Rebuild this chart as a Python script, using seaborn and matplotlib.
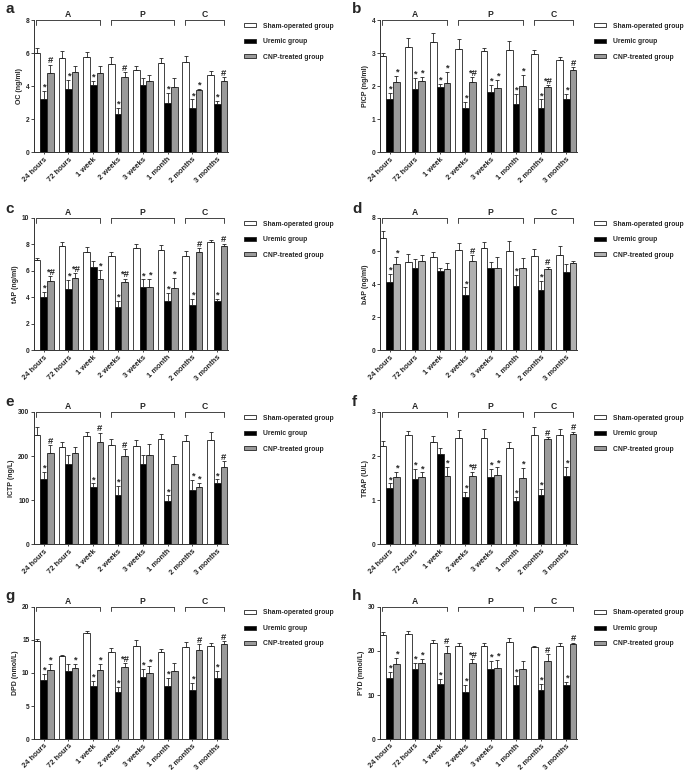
import numpy as np
import pandas as pd
import matplotlib
matplotlib.use('Agg')
import matplotlib.pyplot as plt
from matplotlib.patches import Patch
import seaborn as sns

times = ['24 hours', '72 hours', '1 week', '2 weeks', '3 weeks', '1 month', '2 months', '3 months']
groups = ['Sham-operated group', 'Uremic group', 'CNP-treated group']
phases = ['A', 'P', 'C']
phase_first = [0, 3, 6]
phase_last = [2, 5, 7]

# a - OC
oc_sham = [6.0, 5.7, 5.75, 5.35, 5.0, 5.4, 5.45, 4.7]
oc_uremic = [3.25, 3.85, 4.05, 2.3, 4.05, 3.0, 2.7, 2.9]
oc_cnp = [4.8, 4.85, 4.8, 4.55, 4.3, 3.95, 3.75, 4.3]
oc_sham_sd = [0.3, 0.4, 0.3, 0.4, 0.2, 0.3, 0.35, 0.2]
oc_uremic_sd = [0.45, 0.55, 0.25, 0.4, 0.45, 0.6, 0.5, 0.2]
oc_cnp_sd = [0.5, 0.4, 0.4, 0.3, 0.4, 0.55, 0.1, 0.25]
oc_uremic_sig = ['*', '*', '*', '*', '', '*', '*', '*']
oc_cnp_sig = ['#', '', '', '#', '', '', '*', '#']

# b - PICP
picp_sham = [2.9, 3.2, 3.35, 3.12, 3.05, 3.1, 2.98, 2.8]
picp_uremic = [1.62, 1.93, 1.98, 1.33, 1.82, 1.47, 1.35, 1.62]
picp_cnp = [2.12, 2.15, 2.1, 2.12, 1.95, 2.0, 1.97, 2.5]
picp_sham_sd = [0.1, 0.25, 0.27, 0.3, 0.1, 0.27, 0.12, 0.07]
picp_uremic_sd = [0.18, 0.32, 0.1, 0.19, 0.23, 0.31, 0.25, 0.16]
picp_cnp_sd = [0.18, 0.12, 0.32, 0.15, 0.25, 0.35, 0.06, 0.07]
picp_uremic_sig = ['*', '*', '*', '*', '*', '*', '*', '*']
picp_cnp_sig = ['*', '*', '*', '*#', '*', '*', '*#', '#']

# c - tAP
tap_sham = [6.85, 7.85, 7.4, 7.1, 7.7, 7.55, 7.1, 8.15]
tap_uremic = [4.0, 4.65, 6.3, 3.3, 4.8, 3.75, 3.45, 3.7]
tap_cnp = [5.25, 5.5, 5.4, 5.15, 4.8, 4.7, 7.45, 7.85]
tap_sham_sd = [0.15, 0.35, 0.4, 0.35, 0.35, 0.4, 0.4, 0.15]
tap_uremic_sd = [0.4, 0.65, 0.45, 0.4, 0.55, 0.6, 0.45, 0.15]
tap_cnp_sd = [0.35, 0.35, 0.7, 0.25, 0.6, 0.8, 0.25, 0.2]
tap_uremic_sig = ['*', '*', '', '*', '*', '*', '*', '*']
tap_cnp_sig = ['*#', '*#', '*', '*#', '*', '*', '#', '#']

# d - bAP
bap_sham = [6.8, 5.35, 5.65, 6.05, 6.2, 6.0, 5.7, 5.75]
bap_uremic = [4.1, 4.95, 4.8, 3.35, 4.95, 3.88, 3.65, 4.75]
bap_cnp = [5.2, 5.4, 4.9, 5.4, 5.0, 4.95, 4.9, 5.25]
bap_sham_sd = [0.4, 0.5, 0.3, 0.45, 0.35, 0.6, 0.45, 0.55]
bap_uremic_sd = [0.5, 0.55, 0.2, 0.45, 0.4, 0.67, 0.55, 0.45]
bap_cnp_sd = [0.45, 0.35, 0.35, 0.35, 0.65, 0.65, 0.15, 0.15]
bap_uremic_sig = ['*', '', '', '*', '', '*', '*', '']
bap_cnp_sig = ['*', '', '', '#', '', '', '#', '']

# e - ICTP
ictp_sham = [247, 221, 245, 225, 223, 238, 234, 236]
ictp_uremic = [147, 182, 130, 112, 183, 98, 123, 138]
ictp_cnp = [206, 208, 232, 201, 203, 183, 129, 175]
ictp_sham_sd = [18, 10, 10, 14, 14, 12, 14, 19]
ictp_uremic_sd = [18, 21, 8, 20, 20, 13, 22, 9]
ictp_cnp_sd = [19, 13, 21, 14, 25, 18, 11, 13]
ictp_uremic_sig = ['*', '', '*', '*', '', '*', '*', '*']
ictp_cnp_sig = ['#', '', '#', '#', '', '', '*', '#']

# f - TRAP
trap_sham = [2.22, 2.47, 2.33, 2.41, 2.42, 2.19, 2.47, 2.48]
trap_uremic = [1.28, 1.48, 2.05, 1.07, 1.53, 0.98, 1.11, 1.56]
trap_cnp = [1.52, 1.53, 1.56, 1.55, 1.58, 1.5, 2.39, 2.49]
trap_sham_sd = [0.13, 0.1, 0.13, 0.19, 0.2, 0.14, 0.2, 0.13]
trap_uremic_sd = [0.1, 0.22, 0.14, 0.11, 0.17, 0.1, 0.15, 0.2]
trap_cnp_sd = [0.13, 0.1, 0.2, 0.1, 0.18, 0.24, 0.04, 0.06]
trap_uremic_sig = ['*', '*', '', '*', '*', '*', '*', '*']
trap_cnp_sig = ['*', '*', '*', '*#', '*', '*', '#', '#']

# g - DPD
dpd_sham = [14.8, 12.6, 16.0, 13.1, 14.1, 13.1, 13.9, 14.1]
dpd_uremic = [9.0, 10.3, 8.1, 7.1, 9.4, 8.1, 7.5, 9.3]
dpd_cnp = [10.5, 10.8, 10.4, 10.9, 10.0, 10.3, 13.5, 14.4]
dpd_sham_sd = [0.4, 0.1, 0.4, 0.6, 0.9, 0.5, 0.8, 0.4]
dpd_uremic_sd = [0.8, 1.1, 0.7, 0.8, 1.2, 1.2, 1.0, 1.0]
dpd_cnp_sd = [0.9, 0.6, 1.0, 0.6, 1.1, 1.2, 0.9, 0.4]
dpd_uremic_sig = ['*', '', '*', '*', '*', '*', '*', '*']
dpd_cnp_sig = ['*', '*', '*', '*#', '*', '', '#', '#']

# h - PYD
pyd_sham = [23.7, 23.8, 21.9, 21.2, 21.0, 22.1, 20.9, 21.2]
pyd_uremic = [13.9, 16.0, 12.6, 10.8, 15.8, 12.2, 11.1, 12.3]
pyd_cnp = [17.1, 17.2, 19.6, 17.2, 16.1, 16.0, 17.8, 21.6]
pyd_sham_sd = [0.6, 0.8, 0.5, 0.6, 0.8, 0.8, 0.3, 0.5]
pyd_uremic_sd = [1.4, 1.2, 1.1, 1.4, 2.0, 2.1, 1.5, 0.7]
pyd_cnp_sd = [1.4, 1.0, 1.6, 1.0, 1.9, 1.8, 1.5, 0.3]
pyd_uremic_sig = ['*', '*', '*', '*', '*', '*', '*', '*']
pyd_cnp_sig = ['*', '*', '#', '*#', '*', '', '#', '#']

panels = [
    ('a', 'OC (ng/ml)', 8, 2, oc_sham, oc_uremic, oc_cnp, oc_sham_sd, oc_uremic_sd, oc_cnp_sd, oc_uremic_sig, oc_cnp_sig),
    ('b', 'PICP (ng/ml)', 4, 1, picp_sham, picp_uremic, picp_cnp, picp_sham_sd, picp_uremic_sd, picp_cnp_sd, picp_uremic_sig, picp_cnp_sig),
    ('c', 'tAP (ng/ml)', 10, 2, tap_sham, tap_uremic, tap_cnp, tap_sham_sd, tap_uremic_sd, tap_cnp_sd, tap_uremic_sig, tap_cnp_sig),
    ('d', 'bAP (ng/ml)', 8, 2, bap_sham, bap_uremic, bap_cnp, bap_sham_sd, bap_uremic_sd, bap_cnp_sd, bap_uremic_sig, bap_cnp_sig),
    ('e', 'ICTP (ng/L)', 300, 100, ictp_sham, ictp_uremic, ictp_cnp, ictp_sham_sd, ictp_uremic_sd, ictp_cnp_sd, ictp_uremic_sig, ictp_cnp_sig),
    ('f', 'TRAP (U/L)', 3, 1, trap_sham, trap_uremic, trap_cnp, trap_sham_sd, trap_uremic_sd, trap_cnp_sd, trap_uremic_sig, trap_cnp_sig),
    ('g', 'DPD (nmol/L)', 20, 5, dpd_sham, dpd_uremic, dpd_cnp, dpd_sham_sd, dpd_uremic_sd, dpd_cnp_sd, dpd_uremic_sig, dpd_cnp_sig),
    ('h', 'PYD (nmol/L)', 30, 10, pyd_sham, pyd_uremic, pyd_cnp, pyd_sham_sd, pyd_uremic_sd, pyd_cnp_sd, pyd_uremic_sig, pyd_cnp_sig),
]

colors = ['white', 'black', '#9a9a9a']
# panel d was drawn with a lighter grey for the CNP group
light_grey = {'d': '#b0b0b0'}

sns.set_style('ticks')
plt.rcParams['font.family'] = ['Liberation Sans', 'DejaVu Sans']
plt.rcParams['font.weight'] = 'bold'

W, H = 685, 770
fig = plt.figure(figsize=(W / 100, H / 100), dpi=100)

col_left = [0.050, 0.555]
col_width = [0.283, 0.288]
row_bottom = [0.802, 0.545, 0.293, 0.040]
row_height = 0.172
letter_x = [5, 352]
letter_base = [13, 213, 406, 600]

for i, p in enumerate(panels):
    letter, ylabel, ymax, ystep, sham, uremic, cnp, sham_sd, uremic_sd, cnp_sd, u_sig, c_sig = p
    r, c = i // 2, i % 2
    ax = fig.add_axes([col_left[c], row_bottom[r], col_width[c], row_height])
    pal = [colors[0], colors[1], light_grey.get(letter, colors[2])]

    df = pd.DataFrame({
        'time': times * 3,
        'group': [groups[0]] * 8 + [groups[1]] * 8 + [groups[2]] * 8,
        'value': sham + uremic + cnp,
    })
    sns.barplot(data=df, x='time', y='value', hue='group', order=times, hue_order=groups,
                palette=pal, edgecolor='#222222', linewidth=0.6, errorbar=None,
                width=0.8, ax=ax, legend=False)

    sds = [sham_sd, uremic_sd, cnp_sd]
    sigs = [None, u_sig, c_sig]
    bar_conts = list(ax.containers)
    for k, cont in enumerate(bar_conts):
        xs = [b.get_x() + b.get_width() / 2 for b in cont]
        hs = [b.get_height() for b in cont]
        ax.errorbar(xs, hs, yerr=[np.zeros(8), sds[k]], fmt='none', ecolor='#222222',
                    elinewidth=0.6, capsize=1.6, capthick=0.6)
        if sigs[k] is not None:
            for x, h, s, mk in zip(xs, hs, sds[k], sigs[k]):
                if mk:
                    ax.text(x, h + s - ymax * 0.005, mk, ha='center', va='bottom',
                            fontsize=6.8, fontweight='bold')

    # phase brackets
    for name, a0, a1 in zip(phases, phase_first, phase_last):
        x0, x1 = a0 - 0.3, a1 + 0.27
        ax.plot([x0, x1], [ymax, ymax], color='#444444', lw=0.7, clip_on=False)
        ax.plot([x0, x0], [ymax, ymax * 0.965], color='#444444', lw=0.7, clip_on=False)
        ax.plot([x1, x1], [ymax, ymax * 0.965], color='#444444', lw=0.7, clip_on=False)
        ax.text((x0 + x1) / 2, ymax * 1.008, name, ha='center', va='bottom',
                fontsize=6.2, fontweight='bold')

    ax.set_ylim(0, ymax)
    ax.set_yticks(np.arange(0, ymax + ystep / 2, ystep))
    ax.set_xlim(-0.38, 7.44)
    ax.set_xlabel('')
    ax.set_ylabel(ylabel, fontsize=5, fontweight='bold', labelpad=2)
    ax.tick_params(axis='y', labelsize=4.8, length=2, width=0.6, pad=1.5)
    ax.tick_params(axis='x', labelsize=5.4, length=1.5, width=0.6, pad=1)
    for lab in ax.get_xticklabels():
        lab.set_rotation(45)
        lab.set_ha('right')
        lab.set_rotation_mode('anchor')
        lab.set_fontweight('bold')
    for lab in ax.get_yticklabels():
        lab.set_fontweight('bold')
    sns.despine(ax=ax)
    for sp in ['left', 'bottom']:
        ax.spines[sp].set_linewidth(0.7)
        ax.spines[sp].set_color('#333333')

    handles = [Patch(facecolor=pal[j], edgecolor='#222222', linewidth=0.6) for j in range(3)]
    ax.legend(handles, groups, loc='upper left', bbox_to_anchor=(1.07, 1.0), frameon=False,
              handlelength=1.7, handleheight=0.5, labelspacing=1.25,
              borderaxespad=0, handletextpad=1.1, prop={'weight': 'bold', 'size': 4.9})

    fig.text(letter_x[c] / W, 1 - letter_base[r] / H, letter,
             fontsize=11, fontweight='bold', va='baseline', ha='left')

fig.savefig('out.png', dpi=100)
